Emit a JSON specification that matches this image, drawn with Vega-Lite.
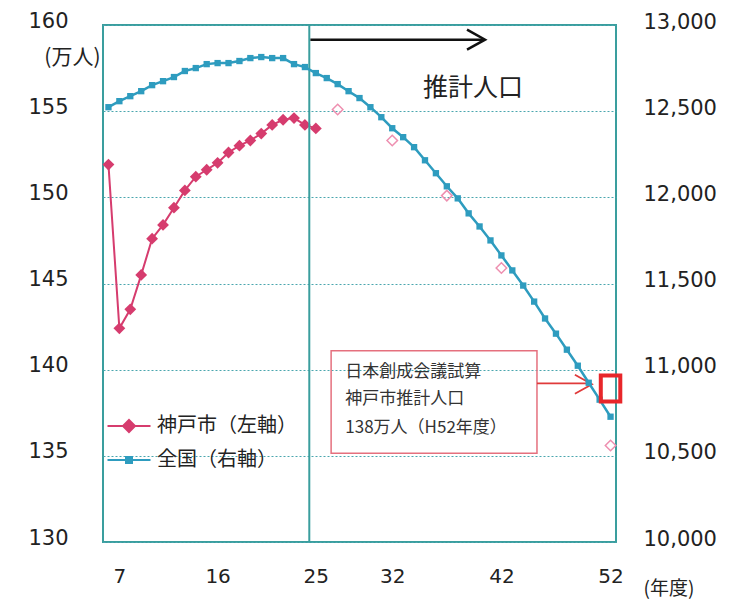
{
  "$schema": "https://vega.github.io/schema/vega-lite/v6.json",
  "width": 513,
  "height": 517,
  "autosize": {"type": "none"},
  "padding": {"left": 103, "top": 25, "right": 126, "bottom": 62},
  "background": "white",
  "config": {
    "view": {"stroke": "#3a9e9e", "strokeWidth": 2},
    "font": "DejaVu Sans"
  },
  "datasets": {
    "kobe": [
      {"year": 6, "pop": 151.9}, {"year": 7, "pop": 142.4}, {"year": 8, "pop": 143.5},
      {"year": 9, "pop": 145.5}, {"year": 10, "pop": 147.6}, {"year": 11, "pop": 148.4},
      {"year": 12, "pop": 149.4}, {"year": 13, "pop": 150.4}, {"year": 14, "pop": 151.2},
      {"year": 15, "pop": 151.6}, {"year": 16, "pop": 152.0}, {"year": 17, "pop": 152.6},
      {"year": 18, "pop": 153.0}, {"year": 19, "pop": 153.3}, {"year": 20, "pop": 153.7},
      {"year": 21, "pop": 154.2}, {"year": 22, "pop": 154.5}, {"year": 23, "pop": 154.6},
      {"year": 24, "pop": 154.2}, {"year": 25, "pop": 154.0}
    ],
    "kobeProj": [
      {"year": 27, "pop": 155.1}, {"year": 32, "pop": 153.3}, {"year": 37, "pop": 150.1},
      {"year": 42, "pop": 145.9}, {"year": 52, "pop": 135.6}
    ],
    "zenkoku": [
      {"year": 6, "pop": 12523}, {"year": 7, "pop": 12558}, {"year": 8, "pop": 12587},
      {"year": 9, "pop": 12616}, {"year": 10, "pop": 12651}, {"year": 11, "pop": 12674},
      {"year": 12, "pop": 12698}, {"year": 13, "pop": 12733}, {"year": 14, "pop": 12750},
      {"year": 15, "pop": 12773}, {"year": 16, "pop": 12779}, {"year": 17, "pop": 12779},
      {"year": 18, "pop": 12791}, {"year": 19, "pop": 12808}, {"year": 20, "pop": 12814},
      {"year": 21, "pop": 12808}, {"year": 22, "pop": 12808}, {"year": 23, "pop": 12773},
      {"year": 24, "pop": 12756}, {"year": 25, "pop": 12721}, {"year": 26, "pop": 12692},
      {"year": 27, "pop": 12657}, {"year": 28, "pop": 12616}, {"year": 29, "pop": 12576},
      {"year": 30, "pop": 12523}, {"year": 31, "pop": 12465}, {"year": 32, "pop": 12401},
      {"year": 33, "pop": 12349}, {"year": 34, "pop": 12291}, {"year": 35, "pop": 12215},
      {"year": 36, "pop": 12140}, {"year": 37, "pop": 12064}, {"year": 38, "pop": 11994},
      {"year": 39, "pop": 11907}, {"year": 40, "pop": 11831}, {"year": 41, "pop": 11750},
      {"year": 42, "pop": 11663}, {"year": 43, "pop": 11576}, {"year": 44, "pop": 11488},
      {"year": 45, "pop": 11395}, {"year": 46, "pop": 11297}, {"year": 47, "pop": 11209},
      {"year": 48, "pop": 11116}, {"year": 49, "pop": 11023}, {"year": 50, "pop": 10924},
      {"year": 51, "pop": 10826}, {"year": 52, "pop": 10727}
    ],
    "notes": [
      {"year": 27.7, "pop": 139.86, "label": "日本創成会議試算"},
      {"year": 27.7, "pop": 138.29, "label": "神戸市推計人口"},
      {"year": 27.7, "pop": 136.6, "label": "138万人（H52年度）"}
    ]
  },
  "layer": [
    {
      "layer": [
        {
          "data": {"name": "kobe"},
          "mark": {"type": "line", "strokeWidth": 2},
          "encoding": {
            "x": {
              "field": "year", "type": "quantitative",
              "scale": {"domain": [5.5, 52.5], "nice": false, "zero": false},
              "axis": {
                "values": [7, 16, 25, 32, 42, 52], "title": "(年度)", "grid": false,
                "domain": false, "ticks": false, "labelFontSize": 20, "labelColor": "#222",
                "labelPadding": 24, "titleFont": "Noto Sans CJK JP", "titleFontSize": 19,
                "titleFontWeight": "normal", "titleColor": "#222", "titleX": 540, "titleY": 46,
                "titleAlign": "left", "titleBaseline": "middle"
              }
            },
            "y": {
              "field": "pop", "type": "quantitative",
              "scale": {"domain": [130, 160], "nice": false, "zero": false},
              "axis": {
                "values": [130, 135, 140, 145, 150, 155, 160], "title": "(万人)",
                "titleAngle": 0, "titleX": -3, "titleY": 32, "titleAlign": "right",
                "titleBaseline": "middle", "titleFont": "Noto Sans CJK JP", "titleFontSize": 21,
                "titleFontWeight": "normal", "titleColor": "#222", "grid": true,
                "gridColor": "#4aa6ae", "gridDash": [2, 2], "gridWidth": 1, "domain": false,
                "ticks": false, "labelFontSize": 21, "labelColor": "#222", "labelPadding": 35,
                "labelOffset": -4
              }
            },
            "color": {
              "datum": "神戸市（左軸）",
              "scale": {"domain": ["神戸市（左軸）", "全国（右軸）"], "range": ["#d63c6e", "#2e9cbf"]},
              "legend": {
                "orient": "none", "legendX": 15, "legendY": 390, "title": null, "padding": 0,
                "labelFont": "Noto Sans CJK JP", "labelFontSize": 20, "labelColor": "#222",
                "labelOffset": 17, "rowPadding": 13, "symbolSize": 400,
                "symbolType": "M-1,0L1,0", "symbolStrokeWidth": 2,
                "encode": {
                  "symbols": {
                    "update": {
                      "shape": {"signal": "datum.value === '神戸市（左軸）' ? 'M-2.15,0L2.15,0M0,-0.6L0.6,0L0,0.6L-0.6,0Z' : 'M-2.15,0L2.15,0M-0.3,-0.3L0.3,-0.3L0.3,0.3L-0.3,0.3Z'"},
                      "fill": {"signal": "datum.value === '神戸市（左軸）' ? '#d63c6e' : '#2e9cbf'"},
                      "stroke": {"signal": "datum.value === '神戸市（左軸）' ? '#d63c6e' : '#2e9cbf'"},
                      "strokeWidth": {"value": 2}
                    }
                  }
                }
              }
            }
          }
        },
        {
          "data": {"values": [{"x": 26.4, "x2": 45.26, "y": 141.1, "y2": 135.15}]},
          "mark": {"type": "rect", "fill": "transparent", "stroke": "#e5707e", "strokeWidth": 1.5},
          "encoding": {
            "x": {"field": "x", "type": "quantitative"},
            "x2": {"field": "x2"},
            "y": {"field": "y", "type": "quantitative"},
            "y2": {"field": "y2"}
          }
        },
        {
          "data": {"name": "kobe"},
          "mark": {"type": "point", "shape": "diamond", "filled": true, "size": 140, "color": "#d63c6e", "opacity": 1},
          "encoding": {
            "x": {"field": "year", "type": "quantitative"},
            "y": {"field": "pop", "type": "quantitative"}
          }
        },
        {
          "data": {"name": "kobeProj"},
          "mark": {"type": "point", "shape": "diamond", "filled": false, "size": 110, "color": "#ee8fb0", "strokeWidth": 1.5, "opacity": 1},
          "encoding": {
            "x": {"field": "year", "type": "quantitative"},
            "y": {"field": "pop", "type": "quantitative"}
          }
        },
        {
          "data": {"values": [{"x": 24.4, "y": 130, "y2": 160}]},
          "mark": {"type": "rule", "color": "#3a9e9e", "strokeWidth": 2},
          "encoding": {
            "x": {"field": "x", "type": "quantitative"},
            "y": {"field": "y", "type": "quantitative"},
            "y2": {"field": "y2"}
          }
        },
        {
          "data": {"values": [{"x": 24.5, "x2": 40.4, "y": 159.15}]},
          "mark": {"type": "rule", "color": "#111", "strokeWidth": 2.5},
          "encoding": {
            "x": {"field": "x", "type": "quantitative"},
            "x2": {"field": "x2"},
            "y": {"field": "y", "type": "quantitative"}
          }
        },
        {
          "data": {"values": [{"x": 40.5, "y": 159.15}]},
          "mark": {"type": "point", "shape": "M-1.8,-1L0,0L-1.8,1", "filled": false, "size": 400, "color": "#111", "strokeWidth": 2.5, "opacity": 1},
          "encoding": {
            "x": {"field": "x", "type": "quantitative"},
            "y": {"field": "y", "type": "quantitative"}
          }
        },
        {
          "data": {"values": [{"x": 45.26, "x2": 50.2, "y": 139.2}]},
          "mark": {"type": "rule", "color": "#e03a3a", "strokeWidth": 1.8},
          "encoding": {
            "x": {"field": "x", "type": "quantitative"},
            "x2": {"field": "x2"},
            "y": {"field": "y", "type": "quantitative"}
          }
        },
        {
          "data": {"values": [{"x": 50.3, "y": 139.15}]},
          "mark": {"type": "point", "shape": "M-1.8,-1L0,0L-1.8,1", "filled": false, "size": 361, "color": "#e03a3a", "strokeWidth": 1.8, "opacity": 1},
          "encoding": {
            "x": {"field": "x", "type": "quantitative"},
            "y": {"field": "y", "type": "quantitative"}
          }
        },
        {
          "data": {"name": "notes"},
          "mark": {"type": "text", "align": "left", "baseline": "middle", "font": "Noto Sans CJK JP", "fontSize": 17, "color": "#333"},
          "encoding": {
            "x": {"field": "year", "type": "quantitative"},
            "y": {"field": "pop", "type": "quantitative"},
            "text": {"field": "label"}
          }
        },
        {
          "data": {"values": [{"x": 39.4, "y": 156.34, "label": "推計人口"}]},
          "mark": {"type": "text", "align": "center", "baseline": "middle", "font": "Noto Sans CJK JP", "fontSize": 25, "color": "#222"},
          "encoding": {
            "x": {"field": "x", "type": "quantitative"},
            "y": {"field": "y", "type": "quantitative"},
            "text": {"field": "label"}
          }
        }
      ]
    },
    {
      "layer": [
        {
          "data": {"name": "zenkoku"},
          "mark": {"type": "line", "strokeWidth": 2.5},
          "encoding": {
            "x": {"field": "year", "type": "quantitative"},
            "y": {
              "field": "pop", "type": "quantitative",
              "scale": {"domain": [10000, 13000], "nice": false, "zero": false},
              "axis": {
                "orient": "right", "values": [10000, 10500, 11000, 11500, 12000, 12500, 13000],
                "labelExpr": "format(datum.value, ',')", "title": null, "grid": false, "domain": false, "ticks": false,
                "labelFontSize": 21, "labelColor": "#222", "labelPadding": 27, "labelOffset": -3
              }
            },
            "color": {"datum": "全国（右軸）"}
          }
        },
        {
          "data": {"name": "zenkoku"},
          "mark": {"type": "point", "shape": "square", "filled": true, "size": 40, "color": "#2e9cbf", "opacity": 1},
          "encoding": {
            "x": {"field": "year", "type": "quantitative"},
            "y": {"field": "pop", "type": "quantitative"}
          }
        },
        {
          "data": {"values": [{"x": 52, "y": 10890}]},
          "mark": {"type": "point", "shape": "M-0.75,-1H0.75V1H-0.75Z", "filled": false, "size": 676, "color": "#e8262a", "strokeWidth": 4, "opacity": 1},
          "encoding": {
            "x": {"field": "x", "type": "quantitative"},
            "y": {"field": "y", "type": "quantitative"}
          }
        }
      ]
    }
  ],
  "resolve": {"scale": {"y": "independent"}, "axis": {"y": "independent"}}
}
